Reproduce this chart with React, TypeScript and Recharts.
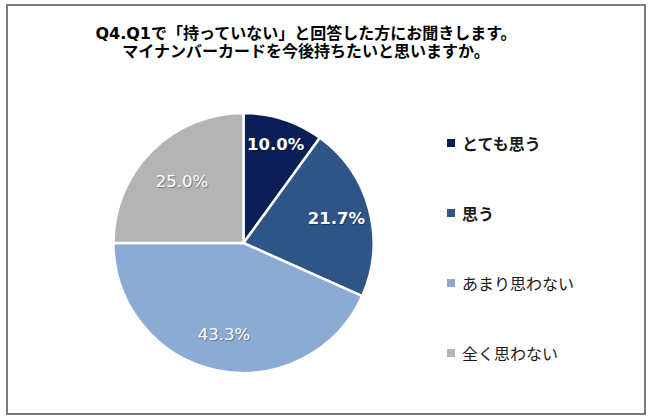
import React from 'react';
import { PieChart, Pie, Cell, Legend } from 'recharts';

const categories = ['とても思う', '思う', 'あまり思わない', '全く思わない'];
const shares = [10.0, 21.7, 43.3, 25.0];
const sliceColors = ['#0B1F56', '#2F5488', '#8BAAD4', '#B4B4B4'];
const boldItems = [true, true, false, false];

const titleLines = [
    'Q4.Q1で「持っていない」と回答した方にお聞きします。',
    'マイナンバーカードを今後持ちたいと思いますか。',
];

const FONT = '"DejaVu Sans", "Noto Sans CJK JP", sans-serif';
const RAD = Math.PI / 180;

const data = categories.map((name, i) => ({ name, value: shares[i] }));

// label radius tweaks per slice (Excel "best fit" isn't uniform)
const labelRatio = [0.8, 0.74, 0.72, 0.67];

const renderLabel = (props: any) => {
    const { cx, cy, midAngle, outerRadius, index, value } = props;
    const r = outerRadius * labelRatio[index];
    const x = cx + r * Math.cos(-midAngle * RAD);
    const y = cy + r * Math.sin(-midAngle * RAD);
    return (
        <text
            x={x}
            y={y}
            fill="#ffffff"
            textAnchor="middle"
            dominantBaseline="central"
            fontFamily={FONT}
            fontSize={16.5}
            fontWeight={boldItems[index] ? 700 : 400}
            style={{ textShadow: '1px 1px 1px rgba(0,0,0,0.35)' }}
        >
            {value.toFixed(1)}%
        </text>
    );
};

const LegendBox = () => (
    <div style={{ fontFamily: FONT }}>
        {categories.map((name, i) => (
            <div
                key={name}
                style={{
                    display: 'flex',
                    alignItems: 'center',
                    height: 70,
                    fontSize: 16,
                    fontWeight: boldItems[i] ? 700 : 400,
                    color: '#1a1a1a',
                }}
            >
                <span
                    style={{
                        display: 'inline-block',
                        width: 8,
                        height: 8,
                        background: sliceColors[i],
                        marginRight: 7,
                    }}
                />
                {name}
            </div>
        ))}
    </div>
);

export default function App() {
    return (
        <div
            style={{
                position: 'absolute',
                left: 0,
                top: 0,
                width: 650,
                height: 418,
                background: '#fff',
            }}
        >
            <div
                style={{
                    position: 'absolute',
                    left: 6,
                    top: 4,
                    width: 636,
                    height: 407,
                    border: '2px solid #7a7a7a',
                }}
            />
            <div
                style={{
                    position: 'absolute',
                    left: 0,
                    top: 25,
                    width: 612,
                    textAlign: 'center',
                    fontFamily: FONT,
                    fontWeight: 700,
                    fontSize: 16,
                    lineHeight: '18px',
                    color: '#000',
                }}
            >
                {titleLines.map((t) => (
                    <div key={t}>{t}</div>
                ))}
            </div>
            <PieChart width={650} height={418} margin={{ top: 0, right: 0, bottom: 0, left: 0 }}>
                <Pie
                    data={data}
                    dataKey="value"
                    nameKey="name"
                    cx={243.5}
                    cy={243}
                    outerRadius={130}
                    startAngle={90}
                    endAngle={-270}
                    stroke="#ffffff"
                    strokeWidth={2.5}
                    label={renderLabel}
                    labelLine={false}
                    isAnimationActive={false}
                >
                    {data.map((d, i) => (
                        <Cell key={d.name} fill={sliceColors[i]} />
                    ))}
                </Pie>
                <Legend
                    content={() => <LegendBox />}
                    wrapperStyle={{ position: 'absolute', left: 447, top: 108, width: 200 }}
                />
            </PieChart>
        </div>
    );
}
